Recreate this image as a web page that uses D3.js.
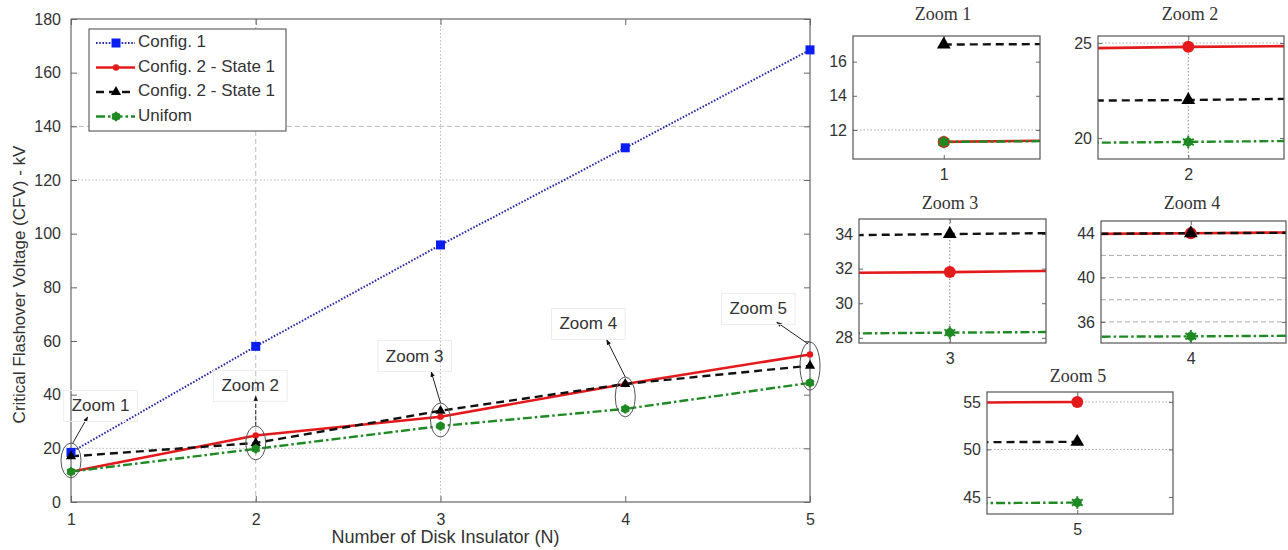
<!DOCTYPE html>
<html>
<head>
<meta charset="utf-8">
<script src="https://cdn.jsdelivr.net/npm/d3@7"></script>
<style>
  body { margin: 0; background: #fff; }
  text { font-family: Arial, "Liberation Sans", sans-serif; fill: #333; }
</style>
</head>
<body>
<svg id="chart" width="1288" height="550"></svg>
<script>
// data
const insulators = [1, 2, 3, 4, 5];
const config1 = [18.5, 58, 95.8, 132, 168.5];
const config2State1 = [11.3, 24.8, 31.8, 44, 55];
const config2State1b = [17, 22, 34, 44, 50.8];
const uniform = [11.3, 19.8, 28.3, 34.7, 44.4];
const seriesNames = ["Config. 1", "Config. 2 - State 1", "Config. 2 - State 1", "Unifom"];
const yTicks = [0, 20, 40, 60, 80, 100, 120, 140, 160, 180];

// zoom call-outs on the main chart (data units)
const zoomNames = ["Zoom 1", "Zoom 2", "Zoom 3", "Zoom 4", "Zoom 5"];
const ellipseLo = [9, 15.7, 24.2, 31.7, 41.7];
const ellipseHi = [22, 28.3, 36.9, 46.6, 59.6];
const labelAt = [[1.16, 35.4], [1.97, 42.9], [2.86, 54], [3.8, 66], [4.72, 71.6]];
const arrowFrom = [[1.01, 22], [2, 28.3], [3, 36.9], [4, 46.6], [4.99, 58.9]];
const arrowTo = [[1.09, 31.7], [2, 39.5], [2.95, 48.5], [3.9, 60.4], [4.82, 67]];

// zoom panels: y domain + ticks
const panelYDomain = [[10.3, 17.5], [18.9, 25.37], [27.7, 34.87], [34.1, 45.1], [43.2, 56.05]];
const panelYTicks = [[12, 14, 16], [20, 25], [28, 30, 32, 34], [36, 40, 44], [45, 50, 55]];

const svg = d3.select("#chart");

const series = [
  {name: seriesNames[0], values: config1, color: "#2a2aa8", width: 2, dash: "1.6,1.6", marker: "square"},
  {name: seriesNames[1], values: config2State1, color: "#e3191c", width: 2.6, dash: null, marker: "dot"},
  {name: seriesNames[2], values: config2State1b, color: "#111", width: 2.4, dash: "8,5", marker: "triangle"},
  {name: seriesNames[3], values: uniform, color: "#1f8a24", width: 2.4, dash: "9,3,2.5,3", marker: "star"}
];

const defs = svg.append("defs");
defs.append("marker")
  .attr("id", "arrow")
  .attr("viewBox", "0 0 10 10")
  .attr("refX", 9).attr("refY", 5)
  .attr("markerWidth", 5.5).attr("markerHeight", 5.5)
  .attr("orient", "auto")
  .append("path").attr("d", "M0,1 L10,5 L0,9 Z").attr("fill", "#111");

function drawMarker(g, kind, cx, cy, big) {
  const s = big ? 1.35 : 1;
  if (kind === "square") {
    g.append("rect").attr("x", cx - 4.5).attr("y", cy - 4.5).attr("width", 9).attr("height", 9)
      .attr("fill", "#0a1ef0");
  } else if (kind === "dot") {
    g.append("circle").attr("cx", cx).attr("cy", cy).attr("r", big ? 6 : 3.2).attr("fill", "#e3191c");
  } else if (kind === "triangle") {
    g.append("path").attr("d", d3.symbol(d3.symbolTriangle, 45 * s * s)())
      .attr("transform", `translate(${cx},${cy})`).attr("fill", "#000");
  } else {
    g.append("circle").attr("cx", cx).attr("cy", cy).attr("r", big ? 4.5 : 4).attr("fill", "#1f8a24");
    g.append("path").attr("d", d3.symbol(d3.symbolAsterisk, big ? 110 : 60)())
      .attr("transform", `translate(${cx},${cy})`).attr("fill", "none")
      .attr("stroke", "#1f8a24").attr("stroke-width", 2);
  }
}

// ---------- main chart ----------
const m = {left: 71, right: 810, top: 19, bottom: 502};
const x = d3.scaleLinear().domain([1, 5]).range([m.left, m.right]);
const y = d3.scaleLinear().domain([0, 180]).range([m.bottom, m.top]);

const main = svg.append("g");

// partial grid as in the figure
[2].forEach(v => main.append("line").attr("x1", x(v)).attr("x2", x(v)).attr("y1", m.top).attr("y2", m.bottom)
  .attr("stroke", "#bbb").attr("stroke-dasharray", "5,3"));
[3].forEach(v => main.append("line").attr("x1", x(v)).attr("x2", x(v)).attr("y1", m.top).attr("y2", m.bottom)
  .attr("stroke", "#bbb").attr("stroke-dasharray", "1.5,2"));
main.append("line").attr("x1", m.left).attr("x2", m.right).attr("y1", y(140)).attr("y2", y(140))
  .attr("stroke", "#bbb").attr("stroke-dasharray", "5,3");
[120, 20].forEach(v => main.append("line").attr("x1", m.left).attr("x2", m.right).attr("y1", y(v)).attr("y2", y(v))
  .attr("stroke", "#bbb").attr("stroke-dasharray", "1.5,2"));

// axes (MATLAB style: ticks inside, box around)
main.append("g").attr("transform", `translate(${m.left},0)`)
  .call(d3.axisLeft(y).tickValues(yTicks).tickSize(-6).tickPadding(10))
  .call(g => g.select(".domain").remove())
  .call(g => g.selectAll("line").attr("stroke", "#666"))
  .call(g => g.selectAll("text").attr("font-size", 16).attr("fill", "#333"));
main.append("g").attr("transform", `translate(${m.right},0)`)
  .call(d3.axisRight(y).tickValues(yTicks).tickSize(-6).tickFormat(""))
  .call(g => g.select(".domain").remove())
  .call(g => g.selectAll("line").attr("stroke", "#666"));
main.append("g").attr("transform", `translate(0,${m.bottom})`)
  .call(d3.axisBottom(x).tickValues(insulators).tickSize(-6).tickPadding(12).tickFormat(d3.format("d")))
  .call(g => g.select(".domain").remove())
  .call(g => g.selectAll("line").attr("stroke", "#666"))
  .call(g => g.selectAll("text").attr("font-size", 16).attr("fill", "#333"));
main.append("g").attr("transform", `translate(0,${m.top})`)
  .call(d3.axisTop(x).tickValues(insulators).tickSize(-6).tickFormat(""))
  .call(g => g.select(".domain").remove())
  .call(g => g.selectAll("line").attr("stroke", "#666"));
main.append("rect").attr("x", m.left).attr("y", m.top)
  .attr("width", m.right - m.left).attr("height", m.bottom - m.top)
  .attr("fill", "none").attr("stroke", "#666").attr("stroke-width", 1.2);

main.append("text").attr("x", x(3) + 5).attr("y", 543).attr("text-anchor", "middle")
  .attr("font-size", 18).text("Number of Disk Insulator (N)");
main.append("text").attr("transform", `translate(25,${(m.top + m.bottom) / 2 + 24}) rotate(-90)`)
  .attr("text-anchor", "middle").attr("font-size", 17)
  .text("Critical Flashover Voltage (CFV) - kV");

// series
const line = d3.line().x((d, i) => x(insulators[i])).y(d => y(d));
series.forEach(s => {
  main.append("path").datum(s.values).attr("d", line)
    .attr("fill", "none").attr("stroke", s.color).attr("stroke-width", s.width)
    .attr("stroke-dasharray", s.dash);
});
series.forEach(s => {
  s.values.forEach((v, i) => drawMarker(main, s.marker, x(insulators[i]), y(v), false));
});

// zoom call-outs
zoomNames.forEach((name, i) => {
  const n = insulators[i];
  const cg = main.append("g");
  const cy = (y(ellipseLo[i]) + y(ellipseHi[i])) / 2;
  cg.append("ellipse").attr("cx", x(n)).attr("cy", cy)
    .attr("rx", 10).attr("ry", (y(ellipseLo[i]) - y(ellipseHi[i])) / 2)
    .attr("fill", "none").attr("stroke", "#555").attr("stroke-width", 1);
  cg.append("line")
    .attr("x1", x(arrowFrom[i][0])).attr("y1", y(arrowFrom[i][1]))
    .attr("x2", x(arrowTo[i][0])).attr("y2", y(arrowTo[i][1]))
    .attr("stroke", "#222").attr("stroke-width", 1)
    .attr("stroke-dasharray", i === 1 ? "4,2" : null)
    .attr("marker-end", "url(#arrow)");
  const box = cg.append("rect");
  const t = cg.append("text").attr("x", x(labelAt[i][0])).attr("y", y(labelAt[i][1]))
    .attr("text-anchor", "middle").attr("dominant-baseline", "middle")
    .attr("font-size", 17).attr("fill", "#222").text(name);
  const b = t.node().getBBox();
  box.attr("x", b.x - 8).attr("y", b.y - 6)
    .attr("width", b.width + 16).attr("height", b.height + 12)
    .attr("fill", "none").attr("stroke", "#ececec");
});

// legend
const lg = main.append("g");
lg.append("rect").attr("x", 89).attr("y", 29).attr("width", 197).attr("height", 102)
  .attr("fill", "#fff").attr("stroke", "#444").attr("stroke-width", 1);
series.forEach((s, i) => {
  const ly = 43 + i * 24.5;
  lg.append("line").attr("x1", 96).attr("x2", 135).attr("y1", ly).attr("y2", ly)
    .attr("stroke", s.color).attr("stroke-width", s.width).attr("stroke-dasharray", s.dash);
  drawMarker(lg, s.marker, 116, ly, false);
  lg.append("text").attr("x", 138).attr("y", ly).attr("dominant-baseline", "middle")
    .attr("font-size", 17).attr("fill", "#222").text(s.name);
});

// ---------- zoom panels ----------
const panels = [
  {box: [853, 36, 1040, 159], title: [943, 20], vgrid: [], hgrid: [12], hdash: "1.5,2", vdash: null},
  {box: [1098, 36, 1284, 159], title: [1190, 20], vgrid: [2], hgrid: [25], hdash: "1.5,2", vdash: "1.5,2"},
  {box: [859, 219, 1046, 343], title: [950, 209], vgrid: [3], hgrid: [], hdash: null, vdash: "1.5,2"},
  {box: [1101, 221, 1286, 343], title: [1192, 209], vgrid: [], hgrid: [36, 38, 40, 42], hdash: "5,3", vdash: null},
  {box: [987, 392, 1173, 514], title: [1078, 382], vgrid: [], hgrid: [50, 55], hdash: "1.5,2", vdash: null}
];

panels.forEach((p, k) => {
  const n = insulators[k];
  const [x0, y0, x1, y1] = p.box;
  const px = d3.scaleLinear().domain([n - 0.005, n + 0.0053]).range([x0, x1]);
  const py = d3.scaleLinear().domain(panelYDomain[k]).range([y1, y0]);
  const g = svg.append("g");
  const clipId = "clip" + k;
  g.append("clipPath").attr("id", clipId).append("rect")
    .attr("x", x0).attr("y", y0).attr("width", x1 - x0).attr("height", y1 - y0);

  g.append("text").attr("x", p.title[0]).attr("y", p.title[1]).attr("text-anchor", "middle")
    .style("font-family", "'Liberation Serif', 'Times New Roman', serif")
    .attr("font-size", 18).attr("fill", "#222").text(zoomNames[k]);

  p.hgrid.forEach(v => g.append("line").attr("x1", x0).attr("x2", x1).attr("y1", py(v)).attr("y2", py(v))
    .attr("stroke", "#aaa").attr("stroke-dasharray", p.hdash));
  p.vgrid.forEach(v => g.append("line").attr("x1", px(v)).attr("x2", px(v)).attr("y1", y0).attr("y2", y1)
    .attr("stroke", "#888").attr("stroke-dasharray", p.vdash));

  g.append("g").attr("transform", `translate(${x0},0)`)
    .call(d3.axisLeft(py).tickValues(panelYTicks[k]).tickSize(-4).tickPadding(6).tickFormat(d3.format("d")))
    .call(a => a.select(".domain").remove())
    .call(a => a.selectAll("line").attr("stroke", "#666"))
    .call(a => a.selectAll("text").attr("font-size", 16).attr("fill", "#333"));
  g.append("g").attr("transform", `translate(${x1},0)`)
    .call(d3.axisRight(py).tickValues(panelYTicks[k]).tickSize(-4).tickFormat(""))
    .call(a => a.select(".domain").remove())
    .call(a => a.selectAll("line").attr("stroke", "#666"));
  g.append("g").attr("transform", `translate(0,${y1})`)
    .call(d3.axisBottom(px).tickValues([n]).tickSize(-4).tickPadding(10).tickFormat(d3.format("d")))
    .call(a => a.select(".domain").remove())
    .call(a => a.selectAll("line").attr("stroke", "#666"))
    .call(a => a.selectAll("text").attr("font-size", 16).attr("fill", "#333"));
  g.append("g").attr("transform", `translate(0,${y0})`)
    .call(d3.axisTop(px).tickValues([n]).tickSize(-4).tickFormat(""))
    .call(a => a.select(".domain").remove())
    .call(a => a.selectAll("line").attr("stroke", "#666"));

  const pl = d3.line().x((d, i) => px(insulators[i])).y(d => py(d));
  const lines = g.append("g").attr("clip-path", `url(#${clipId})`);
  series.slice(1).forEach(s => {
    lines.append("path").datum(s.values).attr("d", pl)
      .attr("fill", "none").attr("stroke", s.color).attr("stroke-width", s.width)
      .attr("stroke-dasharray", s.dash);
  });
  series.slice(1).forEach(s => {
    const v = s.values[k];
    if (v >= panelYDomain[k][0] && v <= panelYDomain[k][1]) {
      drawMarker(lines, s.marker, px(n), py(v), true);
    }
  });
  g.append("rect").attr("x", x0).attr("y", y0).attr("width", x1 - x0).attr("height", y1 - y0)
    .attr("fill", "none").attr("stroke", "#555").attr("stroke-width", 1.2);
});
</script>
</body>
</html>
